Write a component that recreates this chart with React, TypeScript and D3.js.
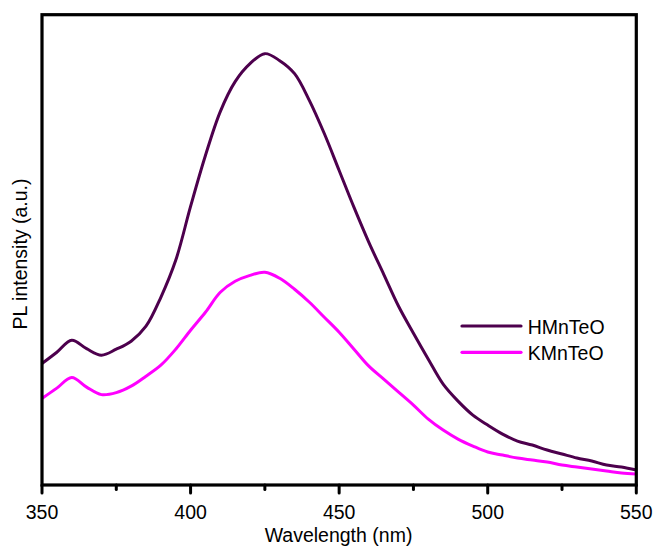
import React, { useRef, useEffect } from 'react';
import * as d3 from 'd3';

// wavelength (nm) and PL intensity (a.u.)
const wavelengths = [350, 355, 360, 365, 370, 375, 380, 385, 390, 395, 400, 405, 410, 415, 420, 425, 430, 435, 440, 445, 450, 455, 460, 465, 470, 475, 480, 485, 490, 495, 500, 505, 510, 515, 520, 525, 530, 535, 540, 545, 550];
const hIntensity = [1217, 1330, 1450, 1365, 1300, 1360, 1440, 1590, 1880, 2250, 2790, 3300, 3740, 4040, 4220, 4320, 4250, 4120, 3850, 3520, 3150, 2780, 2430, 2110, 1790, 1520, 1260, 1010, 840, 700, 600, 510, 440, 400, 350, 310, 270, 240, 200, 180, 150];
const kIntensity = [867, 970, 1077, 980, 905, 925, 990, 1090, 1200, 1360, 1550, 1730, 1930, 2040, 2100, 2130, 2070, 1960, 1830, 1680, 1530, 1360, 1190, 1060, 930, 800, 660, 550, 460, 390, 330, 300, 270, 250, 230, 200, 180, 160, 140, 120, 110];

const seriesNames = ['HMnTeO', 'KMnTeO'];
const seriesColors = ['#4d004d', '#ff00ff'];
const majorTicks = [350, 400, 450, 500, 550];
const minorTicks = [375, 425, 475, 525];

const W = 657;
const H = 546;
const FONT = '"Liberation Sans", Arial, Helvetica, sans-serif';

export default function App() {
  const ref = useRef<SVGSVGElement>(null);

  useEffect(() => {
    const svg = d3.select(ref.current);
    svg.selectAll('*').remove();

    const left = 42, right = 636.3, top = 14.7, bottom = 485;
    const x = d3.scaleLinear().domain([350, 550]).range([left, right]);
    const y = d3.scaleLinear().domain([0, 4710]).range([bottom, top]);

    const series = [hIntensity, kIntensity].map(vals =>
      wavelengths.map((w, i) => [w, vals[i]] as [number, number])
    );

    const line = d3.line<[number, number]>()
      .x(d => x(d[0]))
      .y(d => y(d[1]))
      .curve(d3.curveCatmullRom.alpha(0.5));

    const g = svg.append('g');
    g.append('defs').append('clipPath').attr('id', 'plot-clip')
      .append('rect')
      .attr('x', left).attr('y', top)
      .attr('width', right - left).attr('height', bottom - top);

    // curves, drawn K first so H sits on top
    [1, 0].forEach(i => {
      g.append('path')
        .datum(series[i])
        .attr('clip-path', 'url(#plot-clip)')
        .attr('fill', 'none')
        .attr('stroke', seriesColors[i])
        .attr('stroke-width', 3)
        .attr('stroke-linejoin', 'round')
        .attr('d', line);
    });

    // frame
    g.append('rect')
      .attr('x', left).attr('y', top)
      .attr('width', right - left).attr('height', bottom - top)
      .attr('fill', 'none')
      .attr('stroke', '#000')
      .attr('stroke-width', 3.2);

    // ticks
    g.selectAll('line.major').data(majorTicks).join('line')
      .attr('x1', d => x(d)).attr('x2', d => x(d))
      .attr('y1', bottom).attr('y2', bottom + 8)
      .attr('stroke', '#000').attr('stroke-width', 3).attr('stroke-linecap', 'round');
    g.selectAll('line.minor').data(minorTicks).join('line')
      .attr('x1', d => x(d)).attr('x2', d => x(d))
      .attr('y1', bottom).attr('y2', bottom + 4.5)
      .attr('stroke', '#000').attr('stroke-width', 3).attr('stroke-linecap', 'round');

    g.selectAll('text.tick').data(majorTicks).join('text')
      .attr('x', d => x(d)).attr('y', 519)
      .attr('text-anchor', 'middle')
      .attr('font-family', FONT).attr('font-size', 19.5)
      .attr('fill', '#000')
      .text(d => d);

    g.append('text')
      .attr('x', 338.5).attr('y', 541.5)
      .attr('text-anchor', 'middle')
      .attr('font-family', FONT).attr('font-size', 19.5)
      .text('Wavelength (nm)');

    g.append('text')
      .attr('transform', 'translate(27.3,254) rotate(-90)')
      .attr('text-anchor', 'middle')
      .attr('font-family', FONT).attr('font-size', 19.5)
      .text('PL intensity (a.u.)');

    // legend
    const legend = g.append('g');
    seriesNames.forEach((name, i) => {
      const ly = 326 + i * 26.3;
      legend.append('line')
        .attr('x1', 462).attr('x2', 521)
        .attr('y1', ly).attr('y2', ly)
        .attr('stroke', seriesColors[i]).attr('stroke-width', 3.2)
        .attr('stroke-linecap', 'round');
      legend.append('text')
        .attr('x', 527.7).attr('y', ly + 7.8)
        .attr('font-family', FONT).attr('font-size', 19.5)
        .text(name);
    });
  }, []);

  return (
    <svg
      ref={ref}
      width={W}
      height={H}
      style={{ position: 'absolute', left: 0, top: 0, background: '#fff' }}
    />
  );
}
